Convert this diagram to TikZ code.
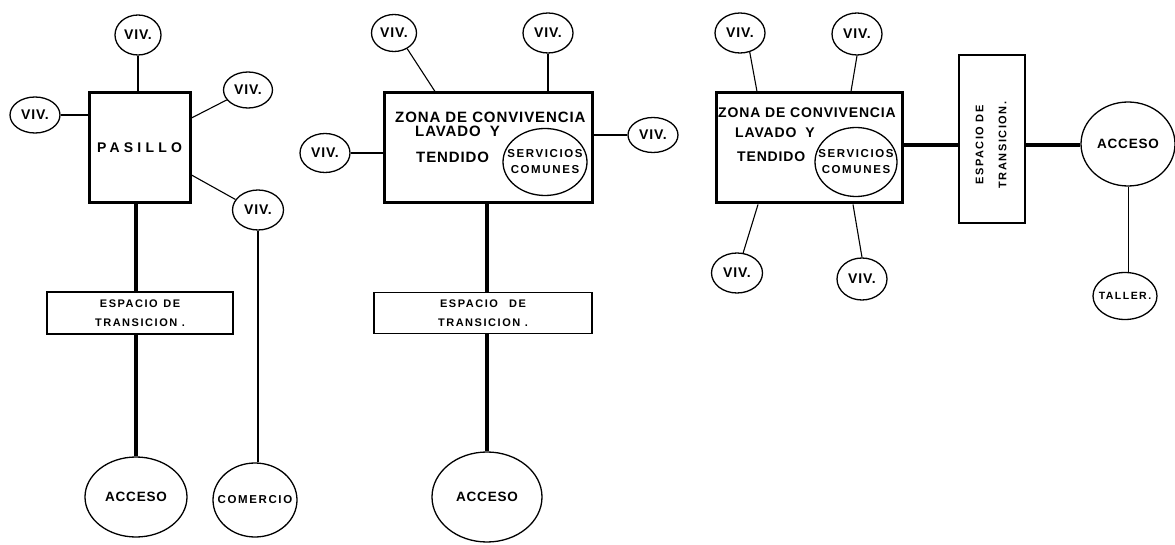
\documentclass[tikz,border=0pt]{standalone}
\usepackage{fontspec}
\setmainfont{Liberation Sans}
\newfontfamily\rotulo[LetterSpace=6]{Liberation Sans Bold}
\newfontfamily\rotuloancho[LetterSpace=14]{Liberation Sans Bold}
\newfontfamily\rotulosuelto[LetterSpace=30]{Liberation Sans Bold}
\usetikzlibrary{shapes.geometric}

\begin{document}
\begin{tikzpicture}[x=1pt, y=-1pt,
    viv/.style={ellipse, draw, line width=1.3pt, inner sep=0pt, minimum width=50pt, minimum height=39pt, font=\rotulo\fontsize{14}{16}\selectfont},
    sala/.style={rectangle, draw, line width=3pt, inner sep=0pt},
    paso/.style={rectangle, draw, line width=1.6pt, inner sep=0pt, align=center, font=\rotuloancho\fontsize{11}{19}\selectfont},
    texto/.style={anchor=west, inner sep=0pt, font=\rotulo\fontsize{15}{17}\selectfont},
    chico/.style={ellipse, draw, line width=1.3pt, inner xsep=-15pt, inner ysep=0pt, align=center, font=\rotuloancho\fontsize{11.5}{16}\selectfont},
    grande/.style={ellipse, draw, line width=1.3pt, inner sep=0pt, font=\rotulo\fontsize{13.5}{15}\selectfont},
    enlace/.style={line width=1.1pt},
    pasaje/.style={line width=4pt}
]
\useasboundingbox (0,0) rectangle (1175,545);

% Pasillo
\node[sala, minimum width=101pt, minimum height=110pt, font=\rotulosuelto\fontsize{14}{16}\selectfont] (pasillo) at (139.5,148) {PASILLO};
\node[viv, minimum width=46pt, minimum height=40pt] (v1) at (138,35) {VIV.};
\node[viv, minimum height=36pt] (v2) at (35,115) {VIV.};
\node[viv, minimum width=49pt, minimum height=36pt] (v3) at (248,90) {VIV.};
\node[viv, minimum width=51pt, minimum height=40pt] (v4) at (258,210) {VIV.};
\node[paso, minimum width=186pt, minimum height=42pt] (esp1) at (140,313) {ESPACIO\enspace DE\\TRANSICION .};
\node[grande, minimum width=102pt, minimum height=80pt] (acc1) at (136,497) {ACCESO};
\node[chico, minimum width=84pt, minimum height=74pt] (com) at (255,500) {COMERCIO};

\draw[enlace] (v1.south) -- (v1.south |- pasillo.north);
\draw[enlace] (v2.east) -- (v2.east -| pasillo.west);
\draw[enlace] (v3.205) -- ([yshift=30pt]pasillo.east);
\draw[enlace] ([yshift=-27pt]pasillo.east) -- (v4.155);
\draw[enlace] (v4.south) -- (v4.south |- com.north);
\draw[pasaje] (acc1 |- pasillo.south) -- (acc1 |- esp1.north);
\draw[pasaje] (acc1 |- esp1.south) -- (acc1.north);

% Zona de convivencia con acceso abajo
\node[sala, minimum width=208pt, minimum height=110pt] (zona2) at (488,148) {};
\node[texto] (zona2a) at (395,117) {ZONA DE CONVIVENCIA};
\node[texto] (zona2b) at (415,131) {LAVADO\hspace{9pt}Y};
\node[texto] (zona2c) at (416,157) {TENDIDO};
\node[chico, minimum width=84pt, minimum height=67pt] (serv2) at (545,162) {SERVICIOS\\COMUNES};
\node[viv, minimum width=45pt, minimum height=37pt] (v5) at (394,33) {VIV.};
\node[viv, minimum height=40pt] (v6) at (548,33) {VIV.};
\node[viv] (v7) at (325,153) {VIV.};
\node[viv, minimum height=35pt] (v8) at (653,135) {VIV.};
\node[paso, minimum width=218pt, minimum height=41pt] (esp2) at (483,313) {ESPACIO\quad DE\\TRANSICION .};
\node[grande, minimum width=110pt, minimum height=90pt] (acc2) at (487,497) {ACCESO};

\draw[enlace] (v5.-50) -- ([xshift=-53pt]zona2.north);
\draw[enlace] (v6.south) -- (v6.south |- zona2.north);
\draw[enlace] (v7.east) -- (v7.east -| zona2.west);
\draw[enlace] (v8.west) -- (v8.west -| zona2.east);
\draw[pasaje] (acc2 |- zona2.south) -- (acc2 |- esp2.north);
\draw[pasaje] (acc2 |- esp2.south) -- (acc2.north);

% Zona de convivencia con acceso al lado
\node[sala, minimum width=186pt, minimum height=110pt] (zona3) at (809,148) {};
\node[texto, font=\rotulo\fontsize{14}{16}\selectfont] (zona3a) at (718,113) {ZONA DE CONVIVENCIA};
\node[texto, font=\rotulo\fontsize{14}{16}\selectfont] (zona3b) at (735,133) {LAVADO\hspace{9pt}Y};
\node[texto, font=\rotulo\fontsize{14}{16}\selectfont] (zona3c) at (737,157) {TENDIDO};
\node[chico, minimum width=82pt, minimum height=69pt] (serv3) at (856,162) {SERVICIOS\\COMUNES};
\node[viv, minimum height=40pt] (v9) at (740,33) {VIV.};
\node[viv, minimum height=42pt] (v10) at (857,34) {VIV.};
\node[viv, minimum width=51pt, minimum height=40pt] (v11) at (737,273) {VIV.};
\node[viv, minimum height=42pt] (v12) at (862,279) {VIV.};
\node[paso, minimum width=66pt, minimum height=168pt] (esp3) at (992,139) {};
\node[rotate=90, align=center, inner sep=0pt, font=\rotuloancho\fontsize{11}{23}\selectfont] (esp3t) at (991,145) {ESPACIO DE\\TRANSICION.};
\node[grande, minimum width=94pt, minimum height=84pt] (acc3) at (1128,144) {ACCESO};
\node[chico, minimum width=64pt, minimum height=47pt, font=\rotuloancho\fontsize{10.5}{12}\selectfont] (taller) at (1125,296) {TALLER.};

\draw[enlace] (v9.-63) -- ([xshift=-52pt]zona3.north);
\draw[enlace] (v10.south) -- ([xshift=42pt]zona3.north);
\draw[enlace] ([xshift=-51pt]zona3.south) -- (v11.73);
\draw[enlace] ([xshift=44pt]zona3.south) -- (v12.north);
\draw[pasaje] ([yshift=3pt]zona3.east) -- ([yshift=3pt]zona3.east -| esp3.west);
\draw[pasaje] ([yshift=3pt]zona3.east -| esp3.east) -- ([yshift=3pt]zona3.east -| acc3.west);
\draw[line width=0.9pt] (acc3.south) -- (acc3.south |- taller.north);

\end{tikzpicture}
\end{document}
